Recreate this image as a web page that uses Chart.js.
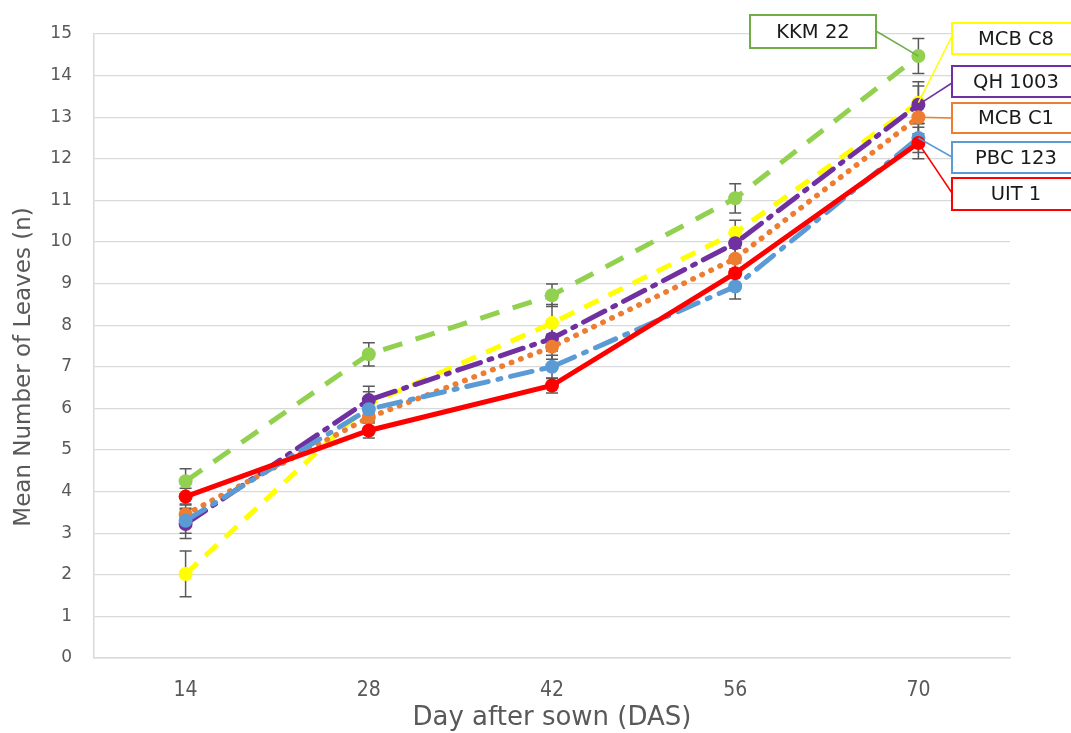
<!DOCTYPE html>
<html>
<head>
<meta charset="utf-8">
<script src="https://cdn.jsdelivr.net/npm/chart.js@4"></script>
<style>
    body { margin: 0; background: #ffffff; }
    #wrap { width: 1071px; height: 733px; }
</style>
</head>
<body>
<div id="wrap"><canvas id="leavesChart"></canvas></div>
<script>
// days after sowing
const days = ['14', '28', '42', '56', '70'];

// mean number of leaves per variety
const uit1 = [3.88, 5.47, 6.55, 9.25, 12.38];
const pbc123 = [3.30, 5.98, 7.00, 8.93, 12.50];
const mcbC1 = [3.45, 5.78, 7.48, 9.60, 13.00];
const qh1003 = [3.22, 6.20, 7.68, 9.97, 13.30];
const mcbC8 = [2.02, 6.10, 8.05, 10.22, 13.35];
const kkm22 = [4.25, 7.30, 8.72, 11.05, 14.47];

// error bar half-heights
const uit1Err = [0.20, 0.18, 0.18, 0.25, 0.38];
const pbc123Err = [0.30, 0.30, 0.28, 0.30, 0.35];
const mcbC1Err = [0.25, 0.25, 0.30, 0.25, 0.40];
const qh1003Err = [0.35, 0.33, 0.30, 0.30, 0.45];
const mcbC8Err = [0.55, 0.30, 0.45, 0.30, 0.50];
const kkm22Err = [0.30, 0.28, 0.27, 0.35, 0.42];

const yTicks = [0, 1, 2, 3, 4, 5, 6, 7, 8, 9, 10, 11, 12, 13, 14, 15];
const yTitle = 'Mean Number of Leaves (n)';

const series = [
    { label: 'UIT 1', data: uit1, err: uit1Err, color: '#FF0000', dash: [], cap: 'round', width: 5 },
    { label: 'PBC 123', data: pbc123, err: pbc123Err, color: '#5B9BD5', dash: [22, 10, 3, 10], cap: 'round', width: 5 },
    { label: 'MCB C1', data: mcbC1, err: mcbC1Err, color: '#ED7D31', dash: [0.5, 9.5], cap: 'round', width: 5.5 },
    { label: 'QH 1003', data: qh1003, err: qh1003Err, color: '#7030A0', dash: [24, 9, 3, 9], cap: 'round', width: 5 },
    { label: 'MCB C8', data: mcbC8, err: mcbC8Err, color: '#FFFF00', dash: [16, 11], cap: 'butt', width: 5 },
    { label: 'KKM 22', data: kkm22, err: kkm22Err, color: '#92D050', dash: [20, 14], cap: 'butt', width: 5 }
];

// callout boxes at the last point: box [left, top, right, bottom], where the leader meets the box
const callouts = {
    'KKM 22':  { box: [750, 15, 876, 48], anchor: [876, 31], border: '#70AD47' },
    'MCB C8':  { box: [952, 23, 1085, 54], anchor: [952, 36], border: '#FFFF00' },
    'QH 1003': { box: [952, 66, 1085, 97], anchor: [952, 83], border: '#7030A0' },
    'MCB C1':  { box: [952, 103, 1085, 133], anchor: [952, 118], border: '#ED7D31' },
    'PBC 123': { box: [952, 142, 1085, 173], anchor: [952, 157], border: '#5B9BD5' },
    'UIT 1':   { box: [952, 178, 1085, 210], anchor: [952, 193], border: '#FF0000' }
};

const errorBars = {
    id: 'errorBars',
    beforeDatasetsDraw(chart) {
        const ctx = chart.ctx;
        const y = chart.scales.y;
        ctx.save();
        ctx.strokeStyle = '#595959';
        ctx.lineWidth = 1.5;
        series.forEach((s, i) => {
            const meta = chart.getDatasetMeta(i);
            meta.data.forEach((pt, j) => {
                const top = y.getPixelForValue(s.data[j] + s.err[j]);
                const bot = y.getPixelForValue(s.data[j] - s.err[j]);
                ctx.beginPath();
                ctx.moveTo(pt.x, top); ctx.lineTo(pt.x, bot);
                ctx.moveTo(pt.x - 6, top); ctx.lineTo(pt.x + 6, top);
                ctx.moveTo(pt.x - 6, bot); ctx.lineTo(pt.x + 6, bot);
                ctx.stroke();
            });
        });
        ctx.restore();
    }
};

const calloutLabels = {
    id: 'calloutLabels',
    afterDatasetsDraw(chart) {
        const ctx = chart.ctx;
        ctx.save();
        series.forEach((s, i) => {
            const c = callouts[s.label];
            const meta = chart.getDatasetMeta(i);
            const pt = meta.data[meta.data.length - 1];
            ctx.strokeStyle = c.border;
            ctx.lineWidth = 1.5;
            ctx.beginPath();
            ctx.moveTo(pt.x, pt.y);
            ctx.lineTo(c.anchor[0], c.anchor[1]);
            ctx.stroke();
            const [l, t, r, b] = c.box;
            ctx.fillStyle = '#ffffff';
            ctx.fillRect(l, t, r - l, b - t);
            ctx.lineWidth = 2;
            ctx.strokeRect(l, t, r - l, b - t);
            ctx.fillStyle = '#1a1a1a';
            ctx.font = '19.5px "DejaVu Sans", Verdana, sans-serif';
            ctx.textAlign = 'center';
            ctx.textBaseline = 'middle';
            const cx = s.label === 'KKM 22' ? (l + r) / 2 : 1016;
            ctx.fillText(s.label, cx, (t + b) / 2 + 1);
        });
        ctx.restore();
    }
};

// y title sits a little below the middle of the axis in the original
const yAxisTitle = {
    id: 'yAxisTitle',
    afterDraw(chart) {
        const ctx = chart.ctx;
        ctx.save();
        ctx.translate(24, 367);
        ctx.rotate(-Math.PI / 2);
        ctx.fillStyle = '#595959';
        ctx.font = '23px "DejaVu Sans", sans-serif';
        ctx.textAlign = 'center';
        ctx.textBaseline = 'middle';
        ctx.fillText(yTitle, 0, 0);
        ctx.restore();
    }
};

new Chart(document.getElementById('leavesChart'), {
    type: 'line',
    data: {
        labels: days,
        datasets: series.map(s => ({
            label: s.label,
            data: s.data,
            borderColor: s.color,
            backgroundColor: s.color,
            borderWidth: s.width,
            borderDash: s.dash,
            borderCapStyle: s.cap,
            pointRadius: 7,
            pointHoverRadius: 7,
            pointBorderWidth: 0,
            tension: 0,
            fill: false
        }))
    },
    options: {
        responsive: true,
        maintainAspectRatio: false,
        animation: false,
        layout: { padding: { top: 34, right: 61, left: 0, bottom: 0 } },
        plugins: {
            legend: { display: false },
            tooltip: { enabled: false }
        },
        scales: {
            x: {
                offset: true,
                grid: { display: false, drawTicks: false },
                border: { display: true, color: '#D9D9D9', width: 1.5 },
                ticks: { color: '#595959', padding: 20, font: { family: '"DejaVu Sans Condensed", "DejaVu Sans", sans-serif', size: 21 } },
                title: { display: true, text: 'Day after sown (DAS)', color: '#595959', padding: { top: 0, bottom: -1 }, font: { family: '"DejaVu Sans", sans-serif', size: 26 } },
                afterFit(scale) { scale.height = 75; }
            },
            y: {
                min: 0,
                max: 15,
                afterBuildTicks(scale) { scale.ticks = yTicks.map(v => ({ value: v })); },
                grid: { color: '#D9D9D9', lineWidth: 1.2, drawTicks: false },
                border: { display: true, color: '#D9D9D9', width: 1.5 },
                ticks: { color: '#595959', padding: 22, font: { family: '"DejaVu Sans", Verdana, sans-serif', size: 17 } },
                title: { display: false },
                afterFit(scale) { scale.width = 94; }
            }
        }
    },
    plugins: [errorBars, calloutLabels, yAxisTitle]
});
</script>
</body>
</html>
